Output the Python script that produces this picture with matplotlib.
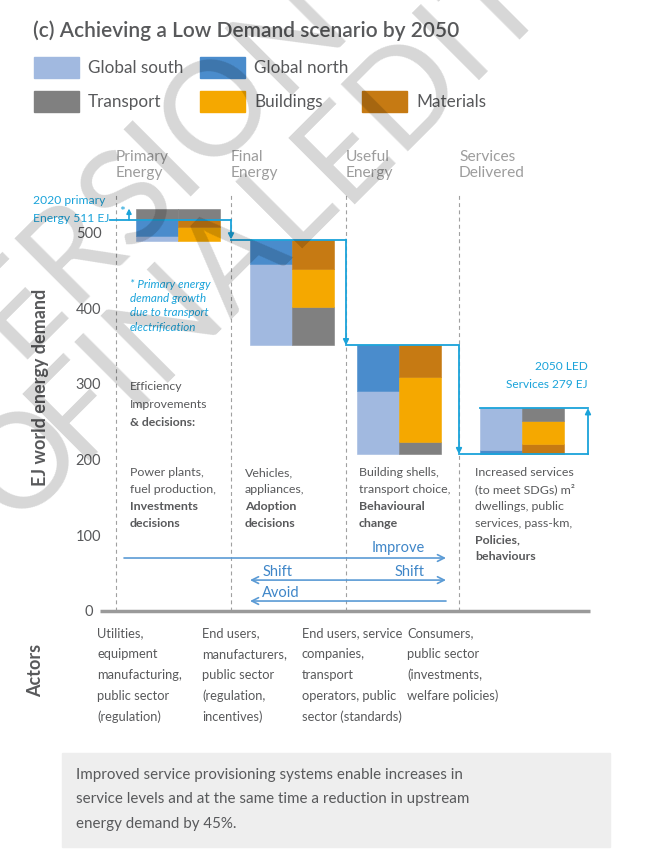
import matplotlib
matplotlib.use('Agg')
import matplotlib.pyplot as plt
import matplotlib.transforms as mtransforms
from matplotlib.patches import Rectangle

plt.rcParams['font.family'] = ['Lato', 'DejaVu Sans']

# ---------- data ---------- #
stages = ['Primary\nEnergy', 'Final\nEnergy', 'Useful\nEnergy', 'Services\nDelivered']
stage_base = [489, 351, 207, 207]
left_parts = [['south', 'north', 'transport'], ['south', 'north'], ['south', 'north'], ['north', 'south']]
left_vals = [[7, 21, 15], [108, 32], [84, 60], [6, 55]]
right_parts = [['buildings', 'materials', 'transport'], ['transport', 'buildings', 'materials'],
               ['transport', 'buildings', 'materials'], ['materials', 'buildings', 'transport']]
right_vals = [[18, 10, 15], [51, 50, 39], [16, 86, 42], [14, 30, 17]]
yticks = [0, 100, 200, 300, 400, 500]

legend_keys = ['south', 'north', 'transport', 'buildings', 'materials']
legend_labels = ['Global south', 'Global north', 'Transport', 'Buildings', 'Materials']

colors = {'south': '#a1b9e0', 'north': '#4a8ccc', 'transport': '#808080',
          'buildings': '#f5a800', 'materials': '#c67a13'}

decisions = [
    [('Power plants,', 'normal'), ('fuel production,', 'normal'), ('Investments', 'bold'), ('decisions', 'bold')],
    [('Vehicles,', 'normal'), ('appliances,', 'normal'), ('Adoption', 'bold'), ('decisions', 'bold')],
    [('Building shells,', 'normal'), ('transport choice,', 'normal'), ('Behavioural', 'bold'), ('change', 'bold')],
    [('Increased services', 'normal'), ('(to meet SDGs) m²', 'normal'), ('dwellings, public', 'normal'),
     ('services, pass-km,', 'normal'), ('Policies,', 'bold'), ('behaviours', 'bold')],
]
actors = [
    ['Utilities,', 'equipment', 'manufacturing,', 'public sector', '(regulation)'],
    ['End users,', 'manufacturers,', 'public sector', '(regulation,', 'incentives)'],
    ['End users, service', 'companies,', 'transport', 'operators, public', 'sector (standards)'],
    ['Consumers,', 'public sector', '(investments,', 'welfare policies)'],
]
summary = ['Improved service provisioning systems enable increases in',
           'service levels and at the same time a reduction in upstream',
           'energy demand by 45%.']
watermark = [('VERSION', 130, 205), ('TO', 0, 493), ('FINAL', 182, 304), ('EDITS', 445, 50)]

# ---------- layout ---------- #
W, H = 672, 866
dark = '#58595b'
cyan = '#1aa3da'
arrow_blue = '#5b9bd5'
dash_x = [116, 231, 346, 459]
bar_x = [136, 250, 357, 480]
col_w = 42

fig = plt.figure(figsize=(W / 100, H / 100), dpi=100)
ax = fig.add_axes([0, 0, 1, 1])
ax.set_xlim(0, W)
ax.set_ylim(-337.7, 807.8)
ax.patch.set_alpha(0)
for s in ax.spines.values():
    s.set_visible(False)
ax.spines['left'].set_position(('data', 100))
ax.set_xticks([])
ax.set_yticks(yticks)
ax.tick_params(axis='y', length=0, pad=8.3, labelsize=10.5, labelcolor=dark)
for lbl in ax.get_yticklabels():
    lbl.set_ha('center')

# pixel transform (origin top-left)
pix = mtransforms.Affine2D().scale(1 / W, -1 / H).translate(0, 1) + fig.transFigure

# title + legend
fig.text(33, 31, '(c) Achieving a Low Demand scenario by 2050', transform=pix, fontsize=15,
         fontweight='semibold', color=dark, va='center')
leg_pos = [(34, 57), (200, 57), (34, 91), (200, 91), (362, 91)]
for key, lab, (lx, ly) in zip(legend_keys, legend_labels, leg_pos):
    fig.patches.append(Rectangle((lx, ly), 45, 21, transform=pix, color=colors[key]))
    fig.text(lx + 54, ly + 11, lab, transform=pix, fontsize=12.3, color=dark, va='center')

# stage headers + dashed lines
for i, name in enumerate(stages):
    for j, line in enumerate(name.split('\n')):
        fig.text(dash_x[i], 157 + 16 * j, line, transform=pix, fontsize=11.2,
                 color='#9d9d9d', va='center')
    ax.vlines(dash_x[i], 0, 551, colors='#a0a0a0', linestyles=(0, (3.5, 3)), lw=0.8)

# bars
for i in range(len(stages)):
    for xoff, parts, vals in [(0, left_parts[i], left_vals[i]), (col_w, right_parts[i], right_vals[i])]:
        b = stage_base[i]
        for p, v in zip(parts, vals):
            ax.bar(bar_x[i] + xoff, v, col_w, bottom=b, align='edge', color=colors[p],
                   edgecolor=colors[p], lw=0.4, zorder=2)
            b += v

# x baseline
ax.hlines(0, 100, 590, colors='#9a9a9a', lw=2.5, zorder=3)

# connecting line through the stages
tops = [stage_base[0] + left_vals[0][0] + left_vals[0][1]] + \
       [stage_base[i] + sum(left_vals[i]) for i in range(1, 4)]
lw_c = 1.3
ax.plot([110, dash_x[1]], [tops[0], tops[0]], color=cyan, lw=lw_c, zorder=4)
for i in range(1, 4):
    ax.annotate('', xy=(dash_x[i], stage_base[i] if i == 3 else tops[i]), xytext=(dash_x[i], tops[i - 1]),
                arrowprops=dict(arrowstyle='-|>', color=cyan, lw=lw_c, shrinkA=0, shrinkB=0,
                                mutation_scale=8), zorder=4)
    if i < 3:
        ax.plot([dash_x[i], dash_x[i + 1]], [tops[i], tops[i]], color=cyan, lw=lw_c, zorder=4)
box_r = 588
ax.plot([dash_x[3], box_r], [stage_base[3], stage_base[3]], color=cyan, lw=lw_c, zorder=4)
ax.annotate('', xy=(box_r, tops[3]), xytext=(box_r, stage_base[3]),
            arrowprops=dict(arrowstyle='-|>', color=cyan, lw=lw_c, shrinkA=0, shrinkB=0,
                            mutation_scale=8), zorder=4)
ax.plot([bar_x[3], box_r], [tops[3], tops[3]], color=cyan, lw=lw_c, zorder=4)

# transport electrification arrow
prim_top = stage_base[0] + sum(left_vals[0])
ax.annotate('', xy=(129, prim_top), xytext=(129, tops[0]),
            arrowprops=dict(arrowstyle='-|>', color=cyan, lw=1.2, shrinkA=0, shrinkB=0,
                            mutation_scale=7), zorder=4)
fig.text(122, 212, '*', transform=pix, fontsize=10, color=cyan, ha='center', va='center')

fig.text(33, 201, '2020 primary', transform=pix, fontsize=8.7, color=cyan, va='center')
fig.text(33, 218, 'Energy 511 EJ', transform=pix, fontsize=8.7, color=cyan, va='center')
fig.text(588, 367, '2050 LED', transform=pix, fontsize=8.6, color=cyan, ha='right', va='center')
fig.text(588, 384, 'Services 279 EJ', transform=pix, fontsize=8.6, color=cyan, ha='right', va='center')

for j, line in enumerate(['* Primary energy', 'demand growth', 'due to transport', 'electrification']):
    fig.text(130, 284 + 14.5 * j, line, transform=pix, fontsize=8.4, color=cyan, style='italic', va='center')

for j, (line, wt) in enumerate([('Efficiency', 'normal'), ('Improvements', 'normal'), ('& decisions:', 'bold')]):
    fig.text(130, 387 + 17.5 * j, line, transform=pix, fontsize=8.8, color=dark, fontweight=wt, va='center')

dec_x = [130, 245, 359, 475]
for i, block in enumerate(decisions):
    for j, (line, wt) in enumerate(block):
        fig.text(dec_x[i], 473 + 16.8 * j, line, transform=pix, fontsize=8.9, color=dark,
                 fontweight=wt, va='center')

# improve / shift / avoid arrows
arr = dict(color=arrow_blue, lw=1.2, shrinkA=0, shrinkB=0, mutation_scale=12)
ax.annotate('', xy=(446, 69.7), xytext=(124, 69.7), arrowprops=dict(arrowstyle='->', **arr))
ax.annotate('', xy=(446, 40.5), xytext=(250, 40.5), arrowprops=dict(arrowstyle='<->', **arr))
ax.annotate('', xy=(250, 12.8), xytext=(446, 12.8), arrowprops=dict(arrowstyle='->', **arr))
for tx, ty, t in [(398, 548, 'Improve'), (278, 572, 'Shift'), (410, 572, 'Shift'), (281, 593, 'Avoid')]:
    fig.text(tx, ty, t, transform=pix, fontsize=10.5, color='#3f86c8', ha='center', va='center')

# axis titles
fig.text(41, 387, 'EJ world energy demand', transform=pix, fontsize=13, fontweight='bold',
         color=dark, rotation=90, ha='center', va='center')
fig.text(36, 670, 'Actors', transform=pix, fontsize=13, fontweight='bold',
         color=dark, rotation=90, ha='center', va='center')

# actors
act_x = [97, 202, 302, 407]
for i, block in enumerate(actors):
    for j, line in enumerate(block):
        fig.text(act_x[i], 633 + 21 * j, line, transform=pix, fontsize=9.3, color=dark, va='center')

# summary box
fig.patches.append(Rectangle((62, 753), 548, 94, transform=pix, color='#eeeeee', zorder=0))
for j, line in enumerate(summary):
    fig.text(76, 775 + 24.3 * j, line, transform=pix, fontsize=10.9, color=dark, va='center')

# draft watermark
for word, wx, wy in watermark:
    fig.text(wx, wy, word, transform=pix, fontsize=95, color='k', alpha=0.16, rotation=45,
             ha='center', va='center', rotation_mode='anchor', zorder=20)

fig.savefig('out.png', dpi=100)
